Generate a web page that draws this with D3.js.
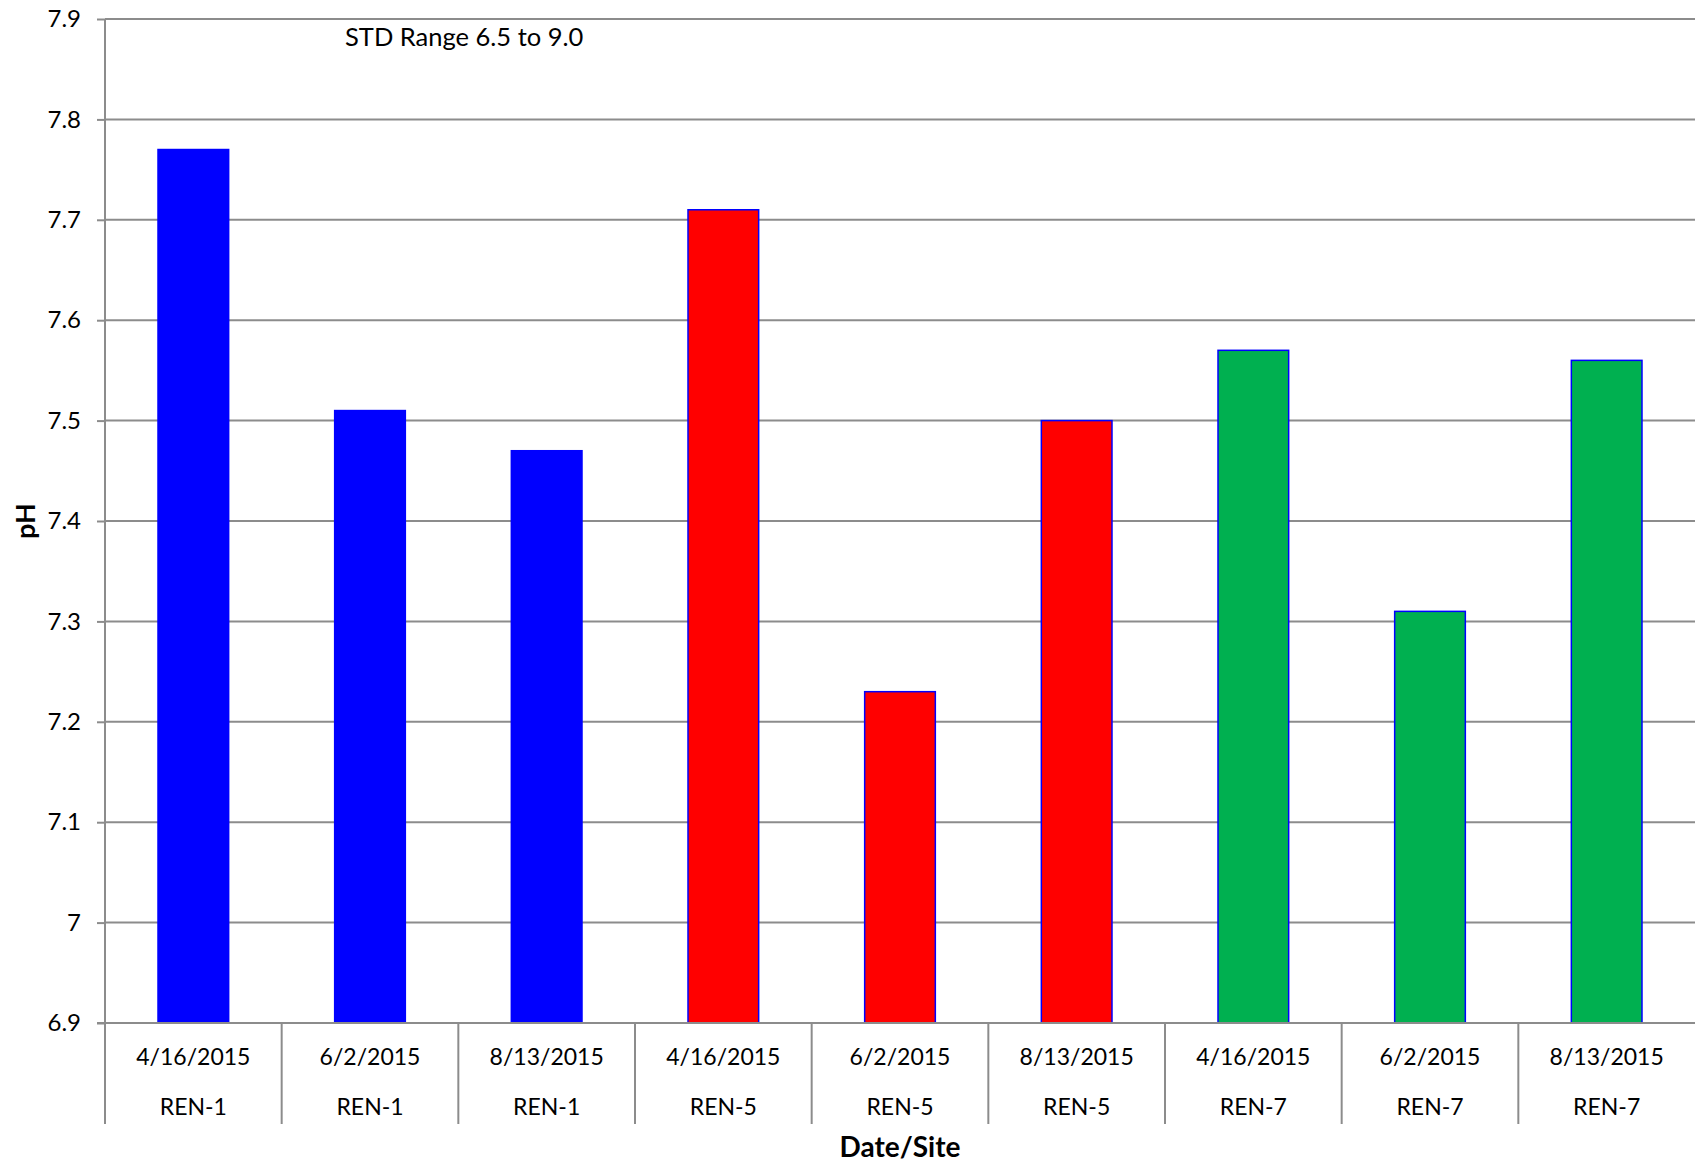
<!DOCTYPE html>
<html>
<head>
<meta charset="utf-8">
<script src="https://cdn.jsdelivr.net/npm/d3@7"></script>
<style>
  body { margin: 0; background: #fff; }
  text { font-family: Lato, "Open Sans", sans-serif; fill: #000; }
</style>
</head>
<body>
<div class="canvas"></div>
<script>
// data
const dates = ["4/16/2015", "6/2/2015", "8/13/2015", "4/16/2015", "6/2/2015", "8/13/2015", "4/16/2015", "6/2/2015", "8/13/2015"];
const sites = ["REN-1", "REN-1", "REN-1", "REN-5", "REN-5", "REN-5", "REN-7", "REN-7", "REN-7"];
const phValues = [7.77, 7.51, 7.47, 7.71, 7.23, 7.50, 7.57, 7.31, 7.56];
const siteColors = {"REN-1": "#0000ff", "REN-5": "#ff0000", "REN-7": "#00b050"};
const yTicks = [6.9, 7.0, 7.1, 7.2, 7.3, 7.4, 7.5, 7.6, 7.7, 7.8, 7.9];
const yTickLabels = ["6.9", "7", "7.1", "7.2", "7.3", "7.4", "7.5", "7.6", "7.7", "7.8", "7.9"];

const width = 1695, height = 1164;
const margin = {top: 19, right: 0, bottom: 141, left: 105};
const graphWidth = width - margin.left - margin.right;
const graphHeight = height - margin.top - margin.bottom;

const svg = d3.select(".canvas")
              .append("svg")
              .attr("width", width)
              .attr("height", height);

const graph = svg.append("g")
                 .attr("transform", `translate(${margin.left},${margin.top})`);

const idx = d3.range(phValues.length);

const x = d3.scaleBand()
            .domain(idx)
            .range([0, graphWidth])
            .paddingInner(0)
            .paddingOuter(0);

const y = d3.scaleLinear()
            .domain([6.9, 7.9])
            .range([graphHeight, 0]);

// gridlines
graph.append("g")
     .selectAll("line")
     .data(yTicks.slice(1))
     .enter()
     .append("line")
     .attr("x1", 0)
     .attr("x2", graphWidth)
     .attr("y1", d => y(d))
     .attr("y2", d => y(d))
     .attr("stroke", "#8c8c8c")
     .attr("stroke-width", 2);

// bars (40% of the band, centred)
const barW = x.bandwidth() * 0.4;
graph.selectAll("rect.bar")
     .data(idx)
     .enter()
     .append("rect")
     .attr("class", "bar")
     .attr("x", i => x(i) + (x.bandwidth() - barW) / 2)
     .attr("y", i => y(phValues[i]))
     .attr("width", barW)
     .attr("height", i => y(6.9) - y(phValues[i]))
     .attr("fill", i => siteColors[sites[i]])
     .attr("stroke", "#0000ff")
     .attr("stroke-width", 1.5);

// y axis
const yAxis = d3.axisLeft(y)
                .tickValues(yTicks)
                .tickFormat((d, i) => yTickLabels[i])
                .tickSize(8)
                .tickPadding(16);
const yg = graph.append("g").call(yAxis);
yg.select(".domain").remove();
yg.selectAll(".tick line").attr("stroke", "#8c8c8c").attr("stroke-width", 2);
yg.selectAll(".tick text").attr("font-size", 24).attr("font-family", "Lato, sans-serif");

// axis lines
graph.append("line")
     .attr("x1", 0).attr("x2", 0)
     .attr("y1", 0).attr("y2", graphHeight + 101)
     .attr("stroke", "#8c8c8c").attr("stroke-width", 2);
graph.append("line")
     .attr("x1", -8).attr("x2", graphWidth)
     .attr("y1", graphHeight).attr("y2", graphHeight)
     .attr("stroke", "#8c8c8c").attr("stroke-width", 2);

// category separators
graph.append("g")
     .selectAll("line")
     .data(idx.slice(1))
     .enter()
     .append("line")
     .attr("x1", i => x(i)).attr("x2", i => x(i))
     .attr("y1", graphHeight).attr("y2", graphHeight + 101)
     .attr("stroke", "#8c8c8c").attr("stroke-width", 2);

// two-line category labels
const labels = graph.append("g")
                    .selectAll("g")
                    .data(idx)
                    .enter()
                    .append("g")
                    .attr("transform", i => `translate(${x(i) + x.bandwidth() / 2},${graphHeight})`);
labels.append("text")
      .attr("y", 34)
      .attr("dy", "0.35em")
      .attr("text-anchor", "middle")
      .attr("font-size", 23)
      .text(i => dates[i]);
labels.append("text")
      .attr("y", 84)
      .attr("dy", "0.35em")
      .attr("text-anchor", "middle")
      .attr("font-size", 23)
      .text(i => sites[i]);

// axis titles
svg.append("text")
   .attr("x", margin.left + graphWidth / 2)
   .attr("y", 1147)
   .attr("dy", "0.35em")
   .attr("text-anchor", "middle")
   .attr("font-size", 28)
   .attr("font-weight", "bold")
   .text("Date/Site");

svg.append("text")
   .attr("transform", `translate(26,${margin.top + graphHeight / 2}) rotate(-90)`)
   .attr("dy", "0.35em")
   .attr("text-anchor", "middle")
   .attr("font-size", 27)
   .attr("font-weight", "bold")
   .text("pH");

// annotation
svg.append("text")
   .attr("x", 345)
   .attr("y", 37)
   .attr("dy", "0.35em")
   .attr("font-size", 25.5)
   .text("STD Range 6.5 to 9.0");
</script>
</body>
</html>
